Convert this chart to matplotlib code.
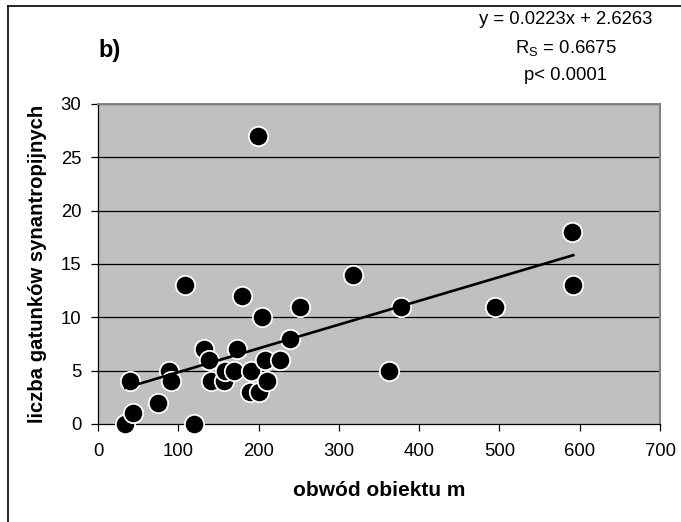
import matplotlib
matplotlib.use('Agg')
import matplotlib.pyplot as plt
from matplotlib.lines import Line2D

plt.rcParams['font.family'] = ['Liberation Sans', 'DejaVu Sans']
plt.rcParams['mathtext.fontset'] = 'custom'
plt.rcParams['mathtext.rm'] = 'Liberation Sans'

# obwod obiektu (m) vs liczba gatunkow synantropijnych
obwod = [34, 44, 40, 75, 88, 91, 108, 120, 132, 138, 141, 157, 158, 170,
         173, 179, 189, 191, 199, 200, 204, 208, 211, 227, 239, 252, 318,
         363, 377, 494, 590, 592]
gatunki = [0, 1, 4, 2, 5, 4, 13, 0, 7, 6, 4, 4, 5, 5,
           7, 12, 3, 5, 27, 3, 10, 6, 4, 6, 8, 11, 14,
           5, 11, 11, 18, 13]

slope, intercept = 0.0223, 2.6263
x_ticks = [0, 100, 200, 300, 400, 500, 600, 700]
y_ticks = [0, 5, 10, 15, 20, 25, 30]

fig = plt.figure(figsize=(6.81, 5.22), dpi=100)
ax = fig.add_axes([98/681, 98/522, 562/681, 320/522])
ax.set_facecolor('#c0c0c0')

for v in y_ticks[1:]:
    ax.axhline(v, color='black', lw=0.9, zorder=1)

ax.scatter(obwod, gatunki, s=195, c='black', edgecolors='white',
           linewidths=1.3, zorder=3, clip_on=False)

xl = [min(obwod), max(obwod)]
ax.plot(xl, [slope * v + intercept for v in xl], color='black', lw=1.9, zorder=4)

ax.set_xlim(0, 700)
ax.set_ylim(0, 30)
ax.set_xticks(x_ticks)
ax.set_yticks(y_ticks)
ax.tick_params(direction='out', length=5, width=0.9, labelsize=13.3, pad=7, colors='black')
ax.tick_params(axis='x', pad=9)

for s in ['top', 'right']:
    ax.spines[s].set_color('#808080')
    ax.spines[s].set_linewidth(1.4)
for s in ['left', 'bottom']:
    ax.spines[s].set_color('black')
    ax.spines[s].set_linewidth(0.9)

ax.set_xlabel('obwód obiektu m', fontsize=15, fontweight='bold', labelpad=15)
ax.set_ylabel('liczba gatunków synantropijnych', fontsize=14.6, fontweight='bold', labelpad=10)

fig.text(110/681, 1 - 51/522, 'b)', fontsize=17, fontweight='bold', ha='center', va='center')
fig.text(566/681, 1 - 20/522, 'y = 0.0223x + 2.6263', fontsize=13.3, ha='center', va='center')
fig.text(566/681, 1 - 48/522, r'R$_{\mathregular{S}}$ = 0.6675', fontsize=13.3, ha='center', va='center')
fig.text(566/681, 1 - 76/522, 'p< 0.0001', fontsize=13.3, ha='center', va='center')

# chart frame (cut at right and bottom edge)
fig.add_artist(Line2D([8/681, 8/681], [0, 1 - 6/522], color='black', lw=1.2, transform=fig.transFigure))
fig.add_artist(Line2D([8/681, 1], [1 - 6/522, 1 - 6/522], color='black', lw=1.2, transform=fig.transFigure))

fig.savefig('out.png', dpi=100, facecolor='white')
